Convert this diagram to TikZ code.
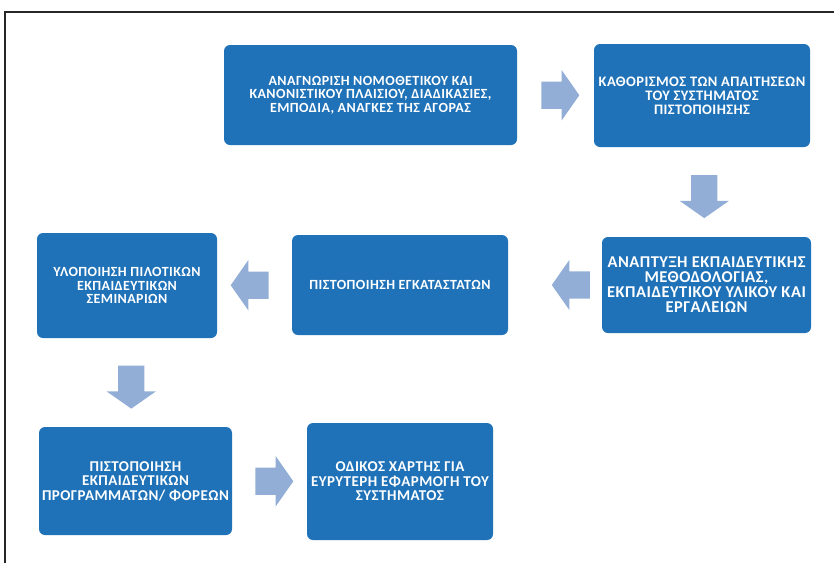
\documentclass[tikz,border=0pt]{standalone}
\usepackage{fontspec}
\setmainfont{Carlito}[LetterSpace=3]
\usetikzlibrary{shapes.arrows, calc}
\definecolor{boxblue}{RGB}{31,114,184}
\definecolor{arrowblue}{RGB}{146,173,214}

\begin{document}
\begin{tikzpicture}[x=1pt, y=-1pt, % styles used in the flow chart
 box/.style = {fill=boxblue, rounded corners=6pt, text=white,
               font=\bfseries\fontsize{14}{13.5}\selectfont,
               align=center, inner sep=0pt},
 big/.style = {font=\bfseries\fontsize{15}{14.5}\selectfont},
flow/.style = {single arrow, fill=arrowblue,
               inner xsep=0pt, inner ysep=13.5pt,
               single arrow head extend=11.5pt,
               single arrow tip angle=110,
               minimum height=38pt, node contents={}},
flowdown/.style = {flow, shape border rotate=270,
               inner xsep=13pt, inner ysep=0pt, minimum height=43pt},
               ]
	\useasboundingbox (0,0) rectangle (834,563);
	% frame
	\draw[line width=2.2pt, black!85] (5,563) -- (5,12) -- (834,12);

	% first row
	\node (b1) [box, minimum width=293, minimum height=100] at (370.5,95)
		{ΑΝΑΓΝΩΡΙΣΗ ΝΟΜΟΘΕΤΙΚΟΥ ΚΑΙ\\ ΚΑΝΟΝΙΣΤΙΚΟΥ ΠΛΑΙΣΙΟΥ, ΔΙΑΔΙΚΑΣΙΕΣ,\\ ΕΜΠΟΔΙΑ, ΑΝΑΓΚΕΣ ΤΗΣ ΑΓΟΡΑΣ};
	\node (b2) [box, font=\bfseries\fontsize{14.5}{14}\selectfont,
		minimum width=216, minimum height=103] at (702,95.5)
		{ΚΑΘΟΡΙΣΜΟΣ ΤΩΝ ΑΠΑΙΤΗΣΕΩΝ\\ ΤΟΥ ΣΥΣΤΗΜΑΤΟΣ\\ ΠΙΣΤΟΠΟΙΗΣΗΣ};

	% second row
	\node (b3) [box, font=\bfseries\fontsize{16.5}{15}\selectfont,
		minimum width=209, minimum height=96] at (706.5,285)
		{ΑΝΑΠΤΥΞΗ ΕΚΠΑΙΔΕΥΤΙΚΗΣ\\ ΜΕΘΟΔΟΛΟΓΙΑΣ,\\ ΕΚΠΑΙΔΕΥΤΙΚΟΥ ΥΛΙΚΟΥ ΚΑΙ\\ ΕΡΓΑΛΕΙΩΝ};
	\node (b4) [box, minimum width=216, minimum height=100] at (400,285)
		{ΠΙΣΤΟΠΟΙΗΣΗ ΕΓΚΑΤΑΣΤΑΤΩΝ};
	\node (b5) [box, minimum width=180, minimum height=105] at (127,285.5)
		{ΥΛΟΠΟΙΗΣΗ ΠΙΛΟΤΙΚΩΝ\\ ΕΚΠΑΙΔΕΥΤΙΚΩΝ\\ ΣΕΜΙΝΑΡΙΩΝ};

	% third row
	\node (b6) [box, big, minimum width=193, minimum height=108] at (135.5,481)
		{ΠΙΣΤΟΠΟΙΗΣΗ\\ ΕΚΠΑΙΔΕΥΤΙΚΩΝ\\ ΠΡΟΓΡΑΜΜΑΤΩΝ/ ΦΟΡΕΩΝ};
	\node (b7) [box, big, minimum width=186, minimum height=117] at (400,481.5)
		{ΟΔΙΚΟΣ ΧΑΡΤΗΣ ΓΙΑ\\ ΕΥΡΥΤΕΡΗ ΕΦΑΡΜΟΓΗ ΤΟΥ\\ ΣΥΣΤΗΜΑΤΟΣ};

	% block arrows between the steps
	\node (a12) at ($(b1.east)!0.5!(b2.west)$) [flow];
	\node (a23) at ($(b2.south)!0.5!(b3.north)$) [flowdown];
	\node (a34) at ($(b3.west)!0.28!(b4.east)$) [flow, shape border rotate=180];
	\node (a45) at ($(b4.west)!0.5!(b5.east)$) [flow, shape border rotate=180];
	\node (a56) at ($(b5.south)!0.5!(b6.north)$) [flowdown];
	\node (a67) at ($(b6.east)!0.5!(b7.west)$) [flow];
\end{tikzpicture}
\end{document}
